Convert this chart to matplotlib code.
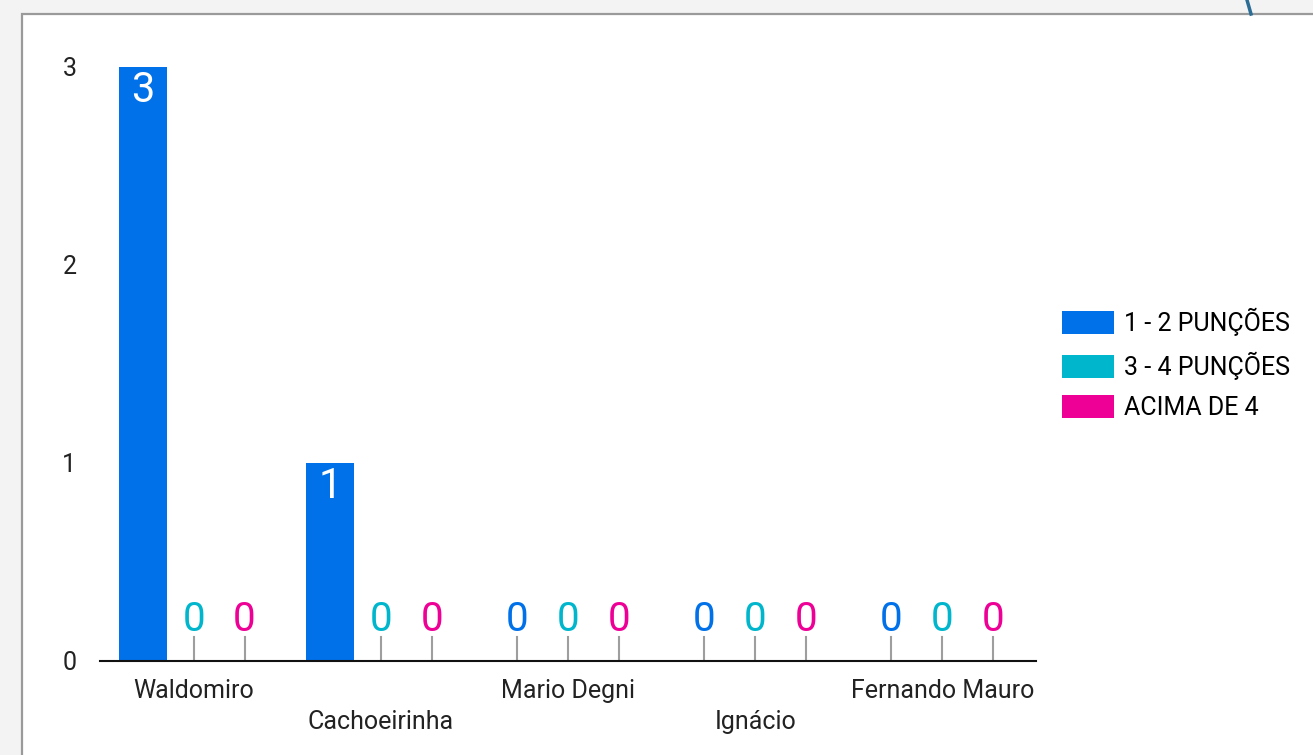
import matplotlib.pyplot as plt
from matplotlib.patches import Rectangle
from matplotlib.lines import Line2D

plt.rcParams['font.family'] = ['Roboto', 'DejaVu Sans']

# Data
places = ['Waldomiro', 'Cachoeirinha', 'Mario Degni', 'Ignácio', 'Fernando Mauro']
series = ['1 - 2 PUNÇÕES', '3 - 4 PUNÇÕES', 'ACIMA DE 4']
punc_1_2 = [3, 1, 0, 0, 0]
punc_3_4 = [0, 0, 0, 0, 0]
acima_4 = [0, 0, 0, 0, 0]
colors = ['#0071e9', '#00b6cc', '#ee0097']

W, H = 1313, 755
fig = plt.figure(figsize=(W / 100, H / 100), dpi=100)
fig.patch.set_facecolor('#f3f3f3')

# white card with grey border
fig.patches.append(Rectangle((22 / W, -0.05), 1.1, (H - 14) / H + 0.05,
                             transform=fig.transFigure, facecolor='white',
                             edgecolor='#9a9a9a', linewidth=1.6, zorder=-10))
# bit of background decoration top right
fig.add_artist(Line2D([1247 / W, 1251 / W], [1.0, 1 - 14 / H], transform=fig.transFigure,
                      color='#2c6d96', linewidth=2.5))

ax = fig.add_axes([100 / W, 1 - 661 / H, 936 / W, 594 / H])
ax.set_facecolor('none')

offset = 0.272
width = 0.257
for i, (vals, col) in enumerate(zip([punc_1_2, punc_3_4, acima_4], colors)):
    xs = [g + (i - 1) * offset for g in range(len(places))]
    ax.bar(xs, vals, width=width, color=col, label=series[i], zorder=2)
    for x, v in zip(xs, vals):
        if v > 0:
            ax.annotate(str(v), (x, v), xytext=(0, -2), textcoords='offset points',
                        ha='center', va='top', color='white', fontsize=30)
        else:
            ax.plot([x, x], [0, 0.12], color='#9e9e9e', linewidth=1.5, zorder=1)
            ax.annotate(str(v), (x, 0), xytext=(0, 16), textcoords='offset points',
                        ha='center', va='bottom', color=col, fontsize=29)

ax.set_xlim(-0.5, len(places) - 0.5)
ax.set_ylim(0, 3)
ax.set_yticks([0, 1, 2, 3])
ax.set_yticklabels(['0', '1', '2', '3'], fontsize=18, color='#222222')
ax.tick_params(axis='y', length=0, pad=17)
ax.set_xticks([])
for s in ['top', 'right', 'left']:
    ax.spines[s].set_visible(False)
ax.spines['bottom'].set_color('#111111')
ax.spines['bottom'].set_linewidth(1.5)
ax.spines['bottom'].set_zorder(3)

# staggered category labels
for g, name in enumerate(places):
    dy = -30 if g % 2 == 0 else -61
    ax.annotate(name, (g, 0), xycoords=('data', 'axes fraction'),
                xytext=(0, dy * 0.72), textcoords='offset points',
                ha='center', va='center', fontsize=18, color='#222222')

ax.legend(loc='upper left', bbox_to_anchor=(1062 / W, 1 - 308 / H),
          bbox_transform=fig.transFigure, frameon=False, fontsize=18,
          handlelength=2.08, handleheight=1.04, handletextpad=0.4,
          labelspacing=0.62, borderpad=0, borderaxespad=0)

fig.savefig('out.png', dpi=100, facecolor=fig.get_facecolor())
